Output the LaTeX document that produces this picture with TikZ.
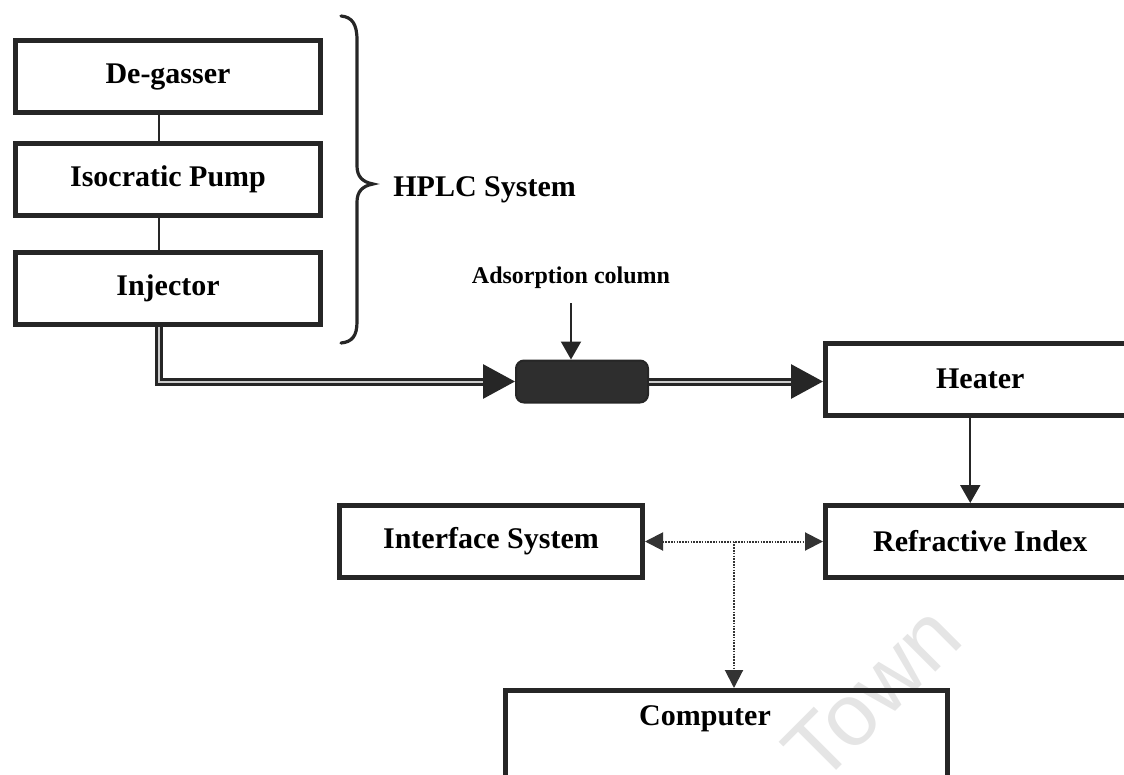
\documentclass[tikz,border=0pt]{standalone}
\usepackage{fontspec}
\setmainfont{Liberation Serif}
\newfontfamily\wmfont{Liberation Sans}
\usetikzlibrary{arrows.meta}
\tikzset{
  box/.style={draw=black!85, line width=2.5pt, rectangle, inner sep=0pt,
    font=\fontsize{15}{18}\selectfont\bfseries},
  thinline/.style={draw=black!85, line width=1pt},
  thinarrow/.style={draw=black!85, line width=1pt, -{Triangle[length=9pt,width=10pt]}},
  pipe/.style={draw=black!85, line width=1.5pt, double=white!80!black, double distance=1pt},
  bigtip/.style={-{Triangle[length=16pt,width=17pt]}},
  dotarrow/.style={draw=black!80, line width=1pt, dash pattern=on 0.8pt off 0.6pt},
  lbl/.style={font=\fontsize{15}{18}\selectfont\bfseries, inner sep=0pt},
}
\begin{document}
\begin{tikzpicture}[x=0.5pt, y=-0.5pt]
\useasboundingbox (0,0) rectangle (1124,775);
\begin{scope}
\clip (0,0) rectangle (1124,775);
% watermark
\node[rotate=45, text=black!10, font=\wmfont\fontsize{44}{48}\selectfont] (wm) at (872,693) {Town};

% HPLC boxes
\node[box, minimum width=152.5pt, minimum height=36pt] (deg) at (168,76.5) {De-gasser};
\node[box, minimum width=152.5pt, minimum height=36pt] (pump) at (168,179.5) {Isocratic Pump};
\node[box, minimum width=152.5pt, minimum height=36pt] (inj) at (168,288.5) {Injector};
\draw[thinline] ([xshift=-4.5pt]deg.south) -- ([xshift=-4.5pt]pump.north);
\draw[thinline] ([xshift=-4.5pt]pump.south) -- ([xshift=-4.5pt]inj.north);

% brace
\draw[line width=1.6pt, black!85, line cap=round]
  (341,16) .. controls (352,17) and (357,24) .. (357,40)
  -- (357,166) .. controls (357,176) and (362,182) .. (373,184)
  .. controls (362,186) and (357,192) .. (357,202)
  -- (357,322) .. controls (357,336) and (352,342) .. (341,343);
\node[lbl, anchor=west] (hplc) at (393,190) {HPLC System};

% column
\node[draw=black!85, fill=black!82, line width=1pt, rounded corners=4pt,
      minimum width=66pt, minimum height=21pt, inner sep=0pt] (col) at (582,381.5) {};
\node[font=\fontsize{12}{14}\selectfont\bfseries, inner sep=0pt] (ads) at (571,278) {Adsorption column};
\draw[thinarrow] ([yshift=-7pt]ads.south) -- (ads.south |- col.north);

% heater, RI
\node[box, minimum width=154.75pt, minimum height=36pt] (heater) at (980.25,379) {Heater};
\node[box, minimum width=154.75pt, minimum height=36pt] (ri) at (980.25,541.5) {Refractive Index};
\node[box, minimum width=151.5pt, minimum height=36pt] (iface) at (491,541.5) {Interface System};
\node[box, minimum width=221pt, minimum height=100pt] (comp) at (726.5,790.5) {};
\node[lbl] (complbl) at (705,719) {Computer};

% pipes
\draw[pipe, bigtip] ([xshift=-4.5pt]inj.south) |- (col.west);
\draw[pipe, bigtip] (col.east) -- (heater.west |- col.east);

% heater -> RI
\draw[thinarrow] ([xshift=-5pt]heater.south) -- ([xshift=-5pt]ri.north);

% dotted connections
\coordinate (j) at (734,541.5);
\draw[dotarrow, {Triangle[length=9pt,width=9pt]}-{Triangle[length=9pt,width=9pt]}] (iface.east) -- (ri.west);
\draw[dotarrow, -{Triangle[length=9pt,width=9pt]}] (j) -- (j |- comp.north);
\end{scope}
\end{tikzpicture}
\end{document}
